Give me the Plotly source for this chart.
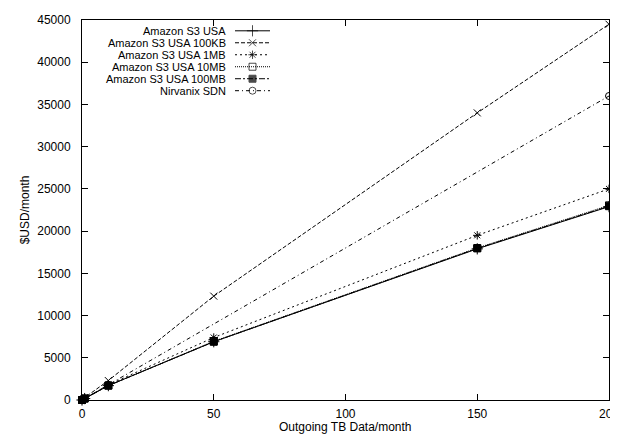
import plotly.graph_objects as go

# ---- data ----
tb = [0, 1, 10, 50, 150, 200]
s3_usa = [0, 170, 1700, 6900, 17900, 22900]
s3_100kb = [0, 280, 2300, 12300, 34000, 44500]
s3_1mb = [0, 180, 1800, 7400, 19500, 25000]
s3_10mb = [0, 172, 1710, 6950, 18000, 23050]
s3_100mb = [0, 170, 1700, 6900, 17950, 22950]
nirvanix_tb = [0, 1, 10, 200]
nirvanix = [0, 180, 1800, 36000]
x_ticks = [0, 50, 100, 150, 200]
y_ticks = [0, 5000, 10000, 15000, 20000, 25000, 30000, 35000, 40000, 45000]
x_title = "Outgoing TB Data/month"
y_title = "$USD/month"

series = [
    ("Amazon S3 USA", tb, s3_usa, "solid", "cross-thin-open", 8),
    ("Amazon S3 USA 100KB", tb, s3_100kb, "4px,2px", "x-thin-open", 7),
    ("Amazon S3 USA 1MB", tb, s3_1mb, "2px,3px", "asterisk-open", 7),
    ("Amazon S3 USA 10MB", tb, s3_10mb, "1px,1px", "square-open", 7),
    ("Amazon S3 USA 100MB", tb, s3_100mb, "6px,2px,2px,2px", "square", 7),
    ("Nirvanix SDN", nirvanix_tb, nirvanix, "4px,3px,1px,3px", "circle-open", 7),
]

FONT = "Liberation Sans, Arial, sans-serif"
W, H = 618, 437
OFF = 8  # page body margin shifts the figure by this much on screen
# plot frame in screen pixels
FX0, FX1, FY0, FY1 = 82, 609, 13, 400
L, R = FX0 - OFF, W - (FX1 - OFF)
T, B = FY0 - OFF, H - (FY1 - OFF)
PLOT_H = FY1 - FY0

fig = go.Figure()
for name, xs, ys, dash, sym, sz in series:
    fig.add_trace(go.Scatter(
        x=xs, y=ys, mode="lines+markers", name=name, showlegend=False,
        line=dict(color="black", width=1, dash=dash),
        marker=dict(symbol=sym, size=sz, color="black",
                    line=dict(color="black", width=1)),
        cliponaxis=False,
    ))

# ---- gnuplot-style key (text right-aligned, sample to the right) ----
key_x0, key_x1, key_text_x = 235, 270, 228
key_y0, key_dy = 24, 12.2
annotations = []
for i, (name, xs, ys, dash, sym, sz) in enumerate(series):
    yy = key_y0 + i * key_dy
    fig.add_trace(go.Scatter(
        x=[key_x0, (key_x0 + key_x1) / 2, key_x1], y=[yy, yy, yy],
        xaxis="x2", yaxis="y2", mode="lines+markers", showlegend=False,
        line=dict(color="black", width=1, dash=dash),
        marker=dict(symbol=sym, size=[0, sz, 0], color="black",
                    line=dict(color="black", width=1)),
        hoverinfo="skip", cliponaxis=False,
    ))
    annotations.append(dict(
        x=key_text_x, y=yy, xref="x2", yref="y2", text=name,
        showarrow=False, xanchor="right", yanchor="middle",
        font=dict(family=FONT, size=11, color="black"),
    ))

# x-axis title as an annotation (centre at screen y = 427)
title_px = 427
annotations.append(dict(
    x=0.5, y=-(title_px - FY1) / PLOT_H, xref="paper", yref="paper",
    text=x_title, showarrow=False, xanchor="center", yanchor="middle",
    font=dict(family=FONT, size=12, color="black"),
))

axis_common = dict(
    showgrid=False, zeroline=False, showline=True, linecolor="black",
    linewidth=1, mirror="allticks", ticks="inside", ticklen=6,
    tickcolor="black", tickwidth=1, ticklabeloverflow="allow",
    tickfont=dict(family=FONT, size=12, color="black"),
)

fig.update_layout(
    width=W, height=H,
    margin=dict(l=L, r=R, t=T, b=B, pad=0),
    paper_bgcolor="white", plot_bgcolor="white",
    showlegend=False,
    xaxis=dict(range=[0, 200], tickvals=x_ticks, tickformat="d",
               ticklabelstandoff=3, **axis_common),
    yaxis=dict(range=[0, 45000], tickvals=y_ticks, tickformat="d",
               ticklabelstandoff=8,
               title=dict(text=y_title, standoff=5,
                          font=dict(family=FONT, size=12, color="black")),
               **axis_common),
    xaxis2=dict(range=[FX0, FX1], domain=[0, 1], overlaying="x",
                visible=False, fixedrange=True),
    yaxis2=dict(range=[FY1, FY0], domain=[0, 1], overlaying="y",
                visible=False, fixedrange=True),
    annotations=annotations,
)

fig.write_html("out.html")
